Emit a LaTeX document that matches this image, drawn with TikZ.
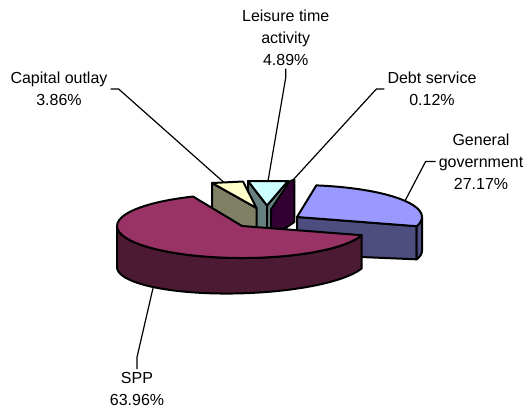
\documentclass[tikz,border=0pt]{standalone}
\usepackage{fontspec}
\setmainfont{Liberation Sans}

\definecolor{sppTop}{RGB}{153,51,102}
\definecolor{sppSide}{RGB}{77,26,51}
\definecolor{ggTop}{RGB}{153,153,255}
\definecolor{ggSide}{RGB}{77,77,128}
\definecolor{capTop}{RGB}{255,255,204}
\definecolor{capSide}{RGB}{128,128,102}
\definecolor{leiTop}{RGB}{204,255,255}
\definecolor{leiSide}{RGB}{102,128,128}
\definecolor{debtSide}{RGB}{51,0,51}

\tikzset{every picture/.style={line width=0.75pt}}
\tikzset{pieface/.style={draw=black,line width=1.5pt,line join=round},
  pielabel/.style={align=center,inner sep=2pt,font=\fontsize{12}{16.5}\selectfont},
  leader/.style={line width=0.9pt}}

\begin{document}
\begin{tikzpicture}[x=0.75pt,y=0.75pt,yscale=-1,xscale=1]
\useasboundingbox (0,0) rectangle (524,411);

%Shape: Polygon [id:lei_side_left]
\draw[pieface,fill=leiSide] (248,181) -- (267,205.5) -- (267,250) -- (248,226) -- cycle ;
%Shape: Polygon [id:lei_side_right]
\draw[pieface,fill=leiSide] (288,181) -- (267,205.5) -- (267,250) -- (288,226) -- cycle ;
%Shape: Triangle [id:lei_top]
\draw[pieface,fill=leiTop] (267,205.5) -- (248,181) -- (288,181) -- cycle ;
%Shape: Polygon [id:debt_side]
\draw[pieface,fill=debtSide] (271,209.5) -- (289.5,181.5) -- (294.3,179.5) -- (294.3,222) -- (271,238) -- cycle ;
%Shape: Polygon [id:cap_side]
\draw[pieface,fill=capSide] (212,183) -- (256.5,208) -- (256.5,250) -- (212,225) -- cycle ;
%Shape: Triangle [id:cap_top]
\draw[pieface,fill=capTop] (256.5,208) -- (212,183) -- (243,181.5) -- cycle ;

%Shape: Polygon [id:gg_front]
\draw[pieface,fill=ggSide] (297,217) -- (416.73,226.2) -- (416.73,259.34) -- (297,254.3) -- cycle ;
%Shape: Arc [id:gg_rim]
\draw[pieface,fill=ggSide] (422,217) arc[start angle=0,end angle=16.7,x radius=125,y radius=32] -- plot[domain=16.7:0,samples=10] ({297+125*cos(\x)},{254.3+30*sin(\x)-3.74*cos(\x)}) -- cycle ;
%Shape: Sector [id:gg_top]
\draw[pieface,fill=ggTop] (297,217) -- (316.32,185.38) arc[start angle=-81.11,end angle=16.7,x radius=125,y radius=32] -- cycle ;

%Shape: Arc [id:spp_side]
\draw[pieface,fill=sppSide] (361.73,235.2) arc[start angle=16.7,end angle=180,x radius=125,y radius=32] -- plot[domain=180:16.7,samples=60] ({242+125*cos(\x)},{263.3+30*sin(\x)-3.74*cos(\x)}) -- cycle ;
%Shape: Sector [id:spp_top]
\draw[pieface,fill=sppTop] (242,226) -- (361.73,235.2) arc[start angle=16.7,end angle=246.96,x radius=125,y radius=32] -- cycle ;

% Text Node
\node[pielabel] (lei) at (285.7,37.7) {Leisure time\\activity\\4.89\%};
% Text Node
\node[pielabel] (cap) at (59,89) {Capital outlay\\3.86\%};
% Text Node
\node[pielabel] (debt) at (432,89) {Debt service\\0.12\%};
% Text Node
\node[pielabel] (gg) at (481,161.5) {General\\government\\27.17\%};
% Text Node
\node[pielabel] (spp) at (137,389) {SPP\\63.96\%};

%Straight Lines [id:leaders]
\coordinate (leiEnd) at (268,181);
\coordinate (capEnd) at (224,182.5);
\coordinate (debtEnd) at (293,180);
\coordinate (ggEnd) at (405,200.9);
\coordinate (sppEnd) at (153.5,286);
\draw[leader] (lei.south) -- ++(0,9) -- (leiEnd);
\draw[leader] (cap.east) -- ++(8,0) -- (capEnd);
\draw[leader] (debt.west) -- ++(-8,0) -- (debtEnd);
\draw[leader] (gg.west) -- ++(-10,0) -- (ggEnd);
\draw[leader] (spp.north) -- ++(0,-12) -- (sppEnd);

\end{tikzpicture}
\end{document}
